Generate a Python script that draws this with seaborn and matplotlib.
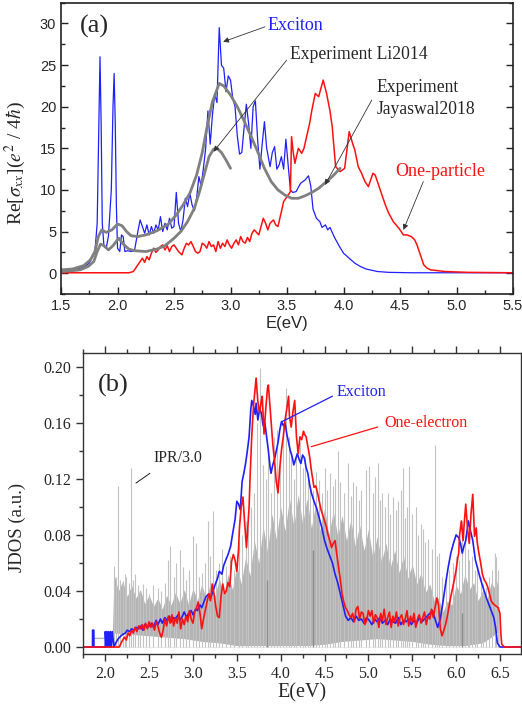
import matplotlib
matplotlib.use('Agg')
import matplotlib.pyplot as plt
import seaborn as sns
from matplotlib.ticker import MultipleLocator, FormatStrFormatter

# ---------------- panel (a): optical conductivity ----------------
exc_a_E = [1.50, 1.60, 1.70, 1.75, 1.78, 1.80, 1.82, 1.835, 1.845, 1.855, 1.865, 1.88, 1.90, 1.92, 1.945,
           1.96, 1.97, 1.98, 1.99, 2.00, 2.02, 2.035, 2.05, 2.065, 2.09, 2.12, 2.15, 2.18, 2.20, 2.22,
           2.24, 2.26, 2.28, 2.30, 2.32, 2.34, 2.36, 2.38, 2.40, 2.42, 2.44, 2.46, 2.48, 2.50, 2.52,
           2.54, 2.56, 2.58, 2.60, 2.62, 2.64, 2.66, 2.68, 2.70, 2.72, 2.74, 2.76, 2.78, 2.80, 2.82,
           2.84, 2.86, 2.88, 2.90, 2.92, 2.94, 2.96, 2.98, 3.00, 3.02, 3.04, 3.06, 3.08, 3.10, 3.12,
           3.14, 3.16, 3.18, 3.20, 3.22, 3.24, 3.26, 3.28, 3.30, 3.32, 3.35, 3.37, 3.39, 3.41, 3.43,
           3.45, 3.47, 3.49, 3.51, 3.53, 3.55, 3.58, 3.62, 3.66, 3.69, 3.71, 3.73, 3.76, 3.79, 3.81,
           3.84, 3.86, 3.88, 3.92, 3.96, 4.00, 4.05, 4.10, 4.15, 4.20, 4.30, 4.40, 4.60, 5.50]
exc_a = [0.3, 0.4, 0.7, 1.2, 2.0, 2.6, 6.0, 18, 26.0, 18, 6, 3.2, 3.0, 4.5, 10,
         20, 24.0, 18, 8, 3.0, 2.6, 4.6, 4.4, 2.6, 2.7, 2.6, 2.7, 5.0, 6.4, 5.6,
         4.8, 5.8, 4.6, 5.6, 4.8, 5.8, 5.2, 6.8, 5.0, 6.0, 5.2, 6.6, 5.4, 5.6, 9.7,
         6.0, 5.0, 6.4, 9.0, 8.0, 9.6, 8.2, 7.5, 9.0, 11.6, 10.5, 12.6, 15.0, 19.5, 15.5,
         19.0, 21.5, 20.5, 29.5, 25.0, 24.6, 21.8, 23.7, 23.2, 21.0, 20.0, 16.5, 14.3, 14.5, 17.5,
         20.3, 18.0, 15.0, 20.0, 20.7, 16.0, 12.5, 15.5, 18.2, 15.0, 12.8, 14.5, 15.2, 12.5, 13.0,
         14.0, 12.5, 16.1, 13.0, 10.0, 9.7, 9.8, 10.8, 11.2, 11.7, 10.5, 7.7, 6.6, 6.2, 5.5,
         5.8, 5.2, 5.5, 4.3, 3.3, 2.4, 1.8, 1.2, 0.8, 0.5, 0.2, 0.1, 0.05, 0.05]

one_a_E = [1.50, 2.10, 2.14, 2.17, 2.20, 2.22, 2.24, 2.26, 2.28, 2.30, 2.32, 2.34, 2.36, 2.38, 2.40,
           2.42, 2.44, 2.46, 2.48, 2.50, 2.52, 2.54, 2.57, 2.59, 2.61, 2.63, 2.65, 2.67, 2.69, 2.71,
           2.73, 2.75, 2.77, 2.79, 2.81, 2.83, 2.85, 2.87, 2.89, 2.91, 2.93, 2.95, 2.97, 2.99, 3.01,
           3.03, 3.05, 3.07, 3.09, 3.11, 3.13, 3.15, 3.17, 3.19, 3.21, 3.23, 3.25, 3.27, 3.29, 3.31,
           3.33, 3.35, 3.38, 3.40, 3.42, 3.45, 3.47, 3.50, 3.53, 3.54, 3.555, 3.57, 3.60, 3.63, 3.65,
           3.67, 3.70, 3.72, 3.75, 3.78, 3.82, 3.85, 3.88, 3.90, 3.93, 3.97, 4.01, 4.03, 4.05, 4.08,
           4.10, 4.13, 4.16, 4.19, 4.22, 4.24, 4.26, 4.28, 4.31, 4.34, 4.37, 4.40, 4.44, 4.49, 4.53,
           4.56, 4.60, 4.63, 4.65, 4.68, 4.71, 4.74, 4.77, 4.90, 5.10, 5.50]
one_a = [0.05, 0.05, 0.2, 0.8, 1.4, 1.8, 1.3, 2.0, 1.6, 2.4, 3.0, 2.5, 2.8, 3.2, 3.4,
         2.8, 3.3, 2.6, 3.2, 3.4, 3.0, 2.6, 2.2, 3.0, 3.6, 3.4, 3.8, 3.2, 2.6, 2.4,
         2.6, 3.6, 3.4, 3.0, 3.8, 3.2, 3.4, 2.6, 3.8, 3.0, 3.6, 3.2, 4.0, 3.4, 3.0,
         3.6, 4.0, 3.4, 4.4, 3.8, 3.6, 4.3, 3.8, 4.8, 5.2, 4.9, 4.6, 5.6, 6.6, 6.0,
         5.2, 6.0, 6.4, 5.8, 5.6, 7.4, 8.6, 9.2, 9.8, 16.4, 14.5, 13.2, 15.0, 14.4, 15.0,
         16.2, 18.0, 19.6, 21.6, 21.2, 23.2, 21.6, 19.5, 17.6, 12.8, 12.2, 12.6, 14.8, 17.0, 15.6,
         14.8, 12.8, 12.0, 11.0, 10.4, 11.2, 12.0, 11.8, 10.6, 9.4, 8.2, 7.2, 6.2, 5.4, 4.6,
         4.6, 4.4, 4.0, 3.4, 2.2, 1.0, 0.6, 0.4, 0.2, 0.1, 0.05]

jaya_E = [1.50, 1.60, 1.70, 1.76, 1.80, 1.83, 1.86, 1.90, 1.95, 2.00, 2.04, 2.08, 2.12, 2.18, 2.25,
          2.35, 2.45, 2.52, 2.58, 2.64, 2.70, 2.75, 2.79, 2.84, 2.90, 2.94, 3.00, 3.06, 3.12, 3.18,
          3.24, 3.30, 3.36, 3.42, 3.48, 3.54, 3.60, 3.66, 3.72, 3.78, 3.84, 3.90, 3.97]
jaya = [0.4, 0.5, 0.9, 1.6, 2.6, 4.4, 5.2, 4.9, 5.2, 5.9, 5.7, 5.0, 4.5, 4.4, 4.6,
        5.1, 5.9, 7.0, 8.2, 9.6, 11.8, 14.5, 17.4, 20.6, 22.8, 22.5, 21.4, 20.0, 18.3, 16.5,
        14.6, 12.6, 11.0, 10.0, 9.4, 9.0, 9.0, 9.3, 9.7, 10.2, 10.9, 11.6, 12.6]

li_E = [1.50, 1.60, 1.67, 1.74, 1.79, 1.82, 1.85, 1.88, 1.92, 1.96, 2.01, 2.05, 2.10, 2.15, 2.25,
        2.35, 2.42, 2.50, 2.56, 2.62, 2.68, 2.73, 2.77, 2.81, 2.85, 2.88, 2.92, 2.96, 3.00]
li = [0.2, 0.3, 0.4, 0.8, 1.4, 2.6, 3.5, 3.3, 2.8, 3.3, 4.2, 3.5, 2.9, 2.7, 2.6,
      2.9, 3.3, 4.2, 5.0, 6.2, 7.8, 10.0, 12.0, 14.0, 14.9, 15.0, 14.5, 13.6, 12.6]

# ---------------- panel (b): JDOS ----------------
exc_b_E = [1.75, 1.855, 1.856, 1.87, 1.871, 2.00, 2.001, 2.01, 2.02, 2.03, 2.04, 2.05, 2.06, 2.07, 2.08,
           2.10, 2.12, 2.15, 2.18, 2.20, 2.23, 2.25, 2.28, 2.30, 2.33, 2.35, 2.38, 2.40, 2.43, 2.45,
           2.48, 2.50, 2.53, 2.55, 2.58, 2.60, 2.63, 2.65, 2.68, 2.70, 2.73, 2.75, 2.78, 2.80, 2.83,
           2.85, 2.88, 2.90, 2.93, 2.95, 2.98, 3.00, 3.03, 3.05, 3.08, 3.10, 3.13, 3.15, 3.18, 3.20,
           3.23, 3.25, 3.28, 3.30, 3.33, 3.35, 3.38, 3.40, 3.43, 3.45, 3.48, 3.50, 3.52, 3.54, 3.56,
           3.58, 3.60, 3.62, 3.64, 3.66, 3.67, 3.69, 3.71, 3.72, 3.74, 3.76, 3.78, 3.80, 3.82, 3.84,
           3.86, 3.88, 3.89, 3.91, 3.93, 3.95, 3.97, 3.99, 4.01, 4.03, 4.05, 4.07, 4.09, 4.11, 4.13,
           4.15, 4.17, 4.19, 4.21, 4.23, 4.25, 4.27, 4.29, 4.31, 4.33, 4.35, 4.38, 4.41, 4.44, 4.47,
           4.50, 4.53, 4.56, 4.59, 4.62, 4.65, 4.68, 4.71, 4.74, 4.77, 4.80, 4.83, 4.86, 4.89, 4.92,
           4.95, 4.98, 5.01, 5.04, 5.07, 5.10, 5.13, 5.16, 5.19, 5.22, 5.25, 5.28, 5.31, 5.34, 5.37,
           5.40, 5.43, 5.46, 5.49, 5.52, 5.55, 5.58, 5.61, 5.64, 5.67, 5.70, 5.73, 5.76, 5.79, 5.82,
           5.85, 5.88, 5.91, 5.94, 5.97, 6.00, 6.03, 6.05, 6.07, 6.09, 6.11, 6.13, 6.14, 6.16, 6.19,
           6.22, 6.25, 6.28, 6.31, 6.34, 6.37, 6.40, 6.43, 6.45, 6.47, 6.50, 6.74]
exc_b = [0, 0, 0.012, 0.012, 0, 0, 0.011, 0.0, 0.011, 0.0, 0.011, 0.0, 0.011, 0.0, 0.011,
         0.0, 0.003, 0.006, 0.008, 0.009, 0.010, 0.012, 0.011, 0.013, 0.012, 0.014, 0.013, 0.015, 0.012, 0.016,
         0.014, 0.015, 0.017, 0.014, 0.019, 0.016, 0.020, 0.017, 0.021, 0.019, 0.022, 0.018, 0.021, 0.020, 0.023,
         0.019, 0.022, 0.025, 0.021, 0.024, 0.026, 0.023, 0.027, 0.026, 0.030, 0.028, 0.033, 0.036, 0.038, 0.035,
         0.040, 0.044, 0.049, 0.054, 0.052, 0.058, 0.063, 0.066, 0.072, 0.080, 0.091, 0.104, 0.102, 0.098, 0.118,
         0.124, 0.131, 0.140, 0.150, 0.170, 0.176, 0.172, 0.166, 0.174, 0.162, 0.170, 0.167, 0.158, 0.160, 0.150,
         0.140, 0.128, 0.124, 0.130, 0.134, 0.140, 0.146, 0.155, 0.161, 0.158, 0.160, 0.152, 0.146, 0.140, 0.136,
         0.130, 0.134, 0.138, 0.134, 0.131, 0.137, 0.135, 0.128, 0.124, 0.116, 0.110, 0.104, 0.099, 0.092, 0.085,
         0.076, 0.070, 0.065, 0.060, 0.052, 0.046, 0.038, 0.030, 0.022, 0.019, 0.021, 0.018, 0.022, 0.019, 0.020,
         0.017, 0.021, 0.019, 0.016, 0.020, 0.018, 0.021, 0.017, 0.019, 0.016, 0.020, 0.018, 0.017, 0.021, 0.016,
         0.019, 0.018, 0.020, 0.016, 0.019, 0.017, 0.021, 0.018, 0.020, 0.022, 0.024, 0.026, 0.020, 0.014, 0.020,
         0.032, 0.045, 0.057, 0.067, 0.074, 0.080, 0.078, 0.074, 0.067, 0.072, 0.076, 0.085, 0.090, 0.084, 0.076,
         0.062, 0.055, 0.048, 0.042, 0.036, 0.031, 0.026, 0.021, 0.014, 0.003, 0.0, 0.0]

one_b_E = [1.75, 2.16, 2.19, 2.22, 2.24, 2.26, 2.28, 2.30, 2.32, 2.34, 2.36, 2.38, 2.40, 2.42, 2.44,
           2.46, 2.48, 2.50, 2.52, 2.54, 2.56, 2.58, 2.60, 2.62, 2.64, 2.66, 2.68, 2.70, 2.72, 2.74,
           2.76, 2.78, 2.80, 2.82, 2.84, 2.86, 2.88, 2.90, 2.92, 2.94, 2.96, 2.98, 3.00, 3.02, 3.04,
           3.06, 3.08, 3.10, 3.12, 3.14, 3.16, 3.18, 3.20, 3.22, 3.24, 3.26, 3.28, 3.30, 3.32, 3.34,
           3.36, 3.38, 3.40, 3.42, 3.44, 3.46, 3.48, 3.50, 3.52, 3.53, 3.55, 3.57, 3.59, 3.61, 3.62,
           3.64, 3.65, 3.67, 3.69, 3.71, 3.72, 3.74, 3.76, 3.78, 3.79, 3.81, 3.83, 3.85, 3.86, 3.88,
           3.89, 3.91, 3.93, 3.95, 3.97, 3.99, 4.01, 4.03, 4.05, 4.07, 4.09, 4.10, 4.12, 4.14, 4.16,
           4.18, 4.20, 4.22, 4.24, 4.26, 4.27, 4.29, 4.31, 4.33, 4.35, 4.37, 4.38, 4.40, 4.42, 4.44,
           4.46, 4.48, 4.50, 4.52, 4.54, 4.56, 4.58, 4.60, 4.62, 4.64, 4.66, 4.68, 4.70, 4.72, 4.74,
           4.76, 4.78, 4.80, 4.82, 4.84, 4.86, 4.88, 4.90, 4.92, 4.94, 4.96, 4.98, 5.00, 5.02, 5.04,
           5.06, 5.08, 5.10, 5.12, 5.14, 5.16, 5.18, 5.20, 5.22, 5.24, 5.26, 5.28, 5.30, 5.32, 5.34,
           5.36, 5.38, 5.40, 5.42, 5.44, 5.46, 5.48, 5.50, 5.52, 5.54, 5.56, 5.58, 5.60, 5.62, 5.64,
           5.66, 5.68, 5.70, 5.72, 5.74, 5.76, 5.78, 5.80, 5.82, 5.84, 5.86, 5.88, 5.90, 5.92, 5.94,
           5.96, 5.98, 6.00, 6.02, 6.03, 6.04, 6.06, 6.08, 6.09, 6.11, 6.13, 6.15, 6.17, 6.19, 6.21,
           6.23, 6.24, 6.26, 6.28, 6.30, 6.32, 6.34, 6.36, 6.38, 6.40, 6.42, 6.44, 6.46, 6.48, 6.50,
           6.51, 6.52, 6.55, 6.74]
one_b = [0, 0, 0.004, 0.007, 0.005, 0.010, 0.008, 0.012, 0.010, 0.014, 0.011, 0.015, 0.013, 0.016, 0.012,
         0.017, 0.013, 0.018, 0.014, 0.017, 0.012, 0.018, 0.015, 0.010, 0.007, 0.012, 0.020, 0.015, 0.022, 0.017,
         0.023, 0.015, 0.021, 0.017, 0.025, 0.013, 0.020, 0.016, 0.022, 0.018, 0.026, 0.020, 0.017, 0.025, 0.028,
         0.032, 0.024, 0.013, 0.020, 0.026, 0.032, 0.038, 0.033, 0.045, 0.038, 0.029, 0.022, 0.021, 0.036, 0.045,
         0.038, 0.040, 0.046, 0.043, 0.061, 0.066, 0.062, 0.054, 0.070, 0.085, 0.100, 0.107, 0.088, 0.071, 0.080,
         0.100, 0.119, 0.150, 0.172, 0.185, 0.192, 0.175, 0.167, 0.176, 0.179, 0.152, 0.170, 0.185, 0.187, 0.170,
         0.162, 0.145, 0.133, 0.118, 0.110, 0.128, 0.141, 0.150, 0.162, 0.170, 0.179, 0.165, 0.157, 0.168, 0.176,
         0.150, 0.138, 0.150, 0.148, 0.154, 0.152, 0.150, 0.143, 0.136, 0.126, 0.118, 0.114, 0.115, 0.110, 0.104,
         0.098, 0.094, 0.090, 0.086, 0.080, 0.076, 0.071, 0.074, 0.076, 0.066, 0.057, 0.048, 0.038, 0.032, 0.028,
         0.026, 0.023, 0.021, 0.024, 0.018, 0.027, 0.029, 0.020, 0.025, 0.024, 0.016, 0.019, 0.026, 0.022, 0.026,
         0.017, 0.023, 0.021, 0.014, 0.024, 0.019, 0.027, 0.016, 0.021, 0.025, 0.014, 0.022, 0.018, 0.025, 0.015,
         0.021, 0.023, 0.016, 0.020, 0.026, 0.015, 0.022, 0.018, 0.024, 0.014, 0.020, 0.023, 0.017, 0.021, 0.025,
         0.016, 0.022, 0.020, 0.027, 0.021, 0.028, 0.035, 0.030, 0.013, 0.008, 0.012, 0.016, 0.022, 0.029, 0.036,
         0.042, 0.048, 0.055, 0.064, 0.067, 0.080, 0.090, 0.076, 0.086, 0.102, 0.085, 0.074, 0.095, 0.109, 0.079,
         0.085, 0.075, 0.067, 0.060, 0.052, 0.048, 0.046, 0.043, 0.038, 0.033, 0.031, 0.030, 0.029, 0.028, 0.024,
         0.010, 0.002, 0.0, 0.0]

# IPR/3.0: dense band top edge, white gap under it, and the taller single spikes
ipr_E = [1.86, 2.08, 2.10, 2.15, 2.20, 2.25, 2.30, 2.35, 2.40, 2.45, 2.50, 2.55, 2.60, 2.65, 2.70,
         2.75, 2.80, 2.85, 2.90, 2.95, 3.00, 3.05, 3.10, 3.15, 3.20, 3.25, 3.30, 3.35, 3.40, 3.45,
         3.50, 3.55, 3.60, 3.65, 3.70, 3.75, 3.80, 3.85, 3.90, 3.95, 4.00, 4.05, 4.10, 4.15, 4.20,
         4.25, 4.30, 4.35, 4.40, 4.45, 4.50, 4.55, 4.60, 4.65, 4.70, 4.75, 4.80, 4.85, 4.90, 4.95,
         5.00, 5.05, 5.10, 5.15, 5.20, 5.25, 5.30, 5.35, 5.40, 5.45, 5.50, 5.55, 5.60, 5.65, 5.70,
         5.75, 5.80, 5.85, 5.90, 5.95, 6.00, 6.05, 6.10, 6.15, 6.20, 6.25, 6.30, 6.35, 6.40, 6.45,
         6.48, 6.49]
ipr_high = [0.007, 0.007, 0.052, 0.040, 0.047, 0.036, 0.044, 0.035, 0.041, 0.031, 0.037, 0.029, 0.035, 0.027, 0.037,
            0.030, 0.039, 0.031, 0.041, 0.030, 0.042, 0.033, 0.045, 0.034, 0.046, 0.036, 0.049, 0.037, 0.052, 0.041,
            0.058, 0.045, 0.064, 0.051, 0.076, 0.060, 0.086, 0.068, 0.095, 0.077, 0.100, 0.083, 0.106, 0.086, 0.109,
            0.088, 0.106, 0.085, 0.103, 0.083, 0.099, 0.080, 0.097, 0.079, 0.094, 0.076, 0.091, 0.072, 0.087, 0.069,
            0.084, 0.064, 0.079, 0.061, 0.074, 0.057, 0.069, 0.053, 0.065, 0.049, 0.059, 0.045, 0.053, 0.039, 0.045,
            0.033, 0.035, 0.025, 0.033, 0.030, 0.044, 0.038, 0.052, 0.041, 0.046, 0.033, 0.040, 0.033, 0.046, 0.041,
            0.050, 0.007]
gap_E = [1.86, 2.08, 2.10, 2.3, 2.5, 2.7, 2.9, 3.1, 3.3, 3.5, 3.7, 3.9, 4.1, 4.3, 4.5, 4.7, 4.9,
         5.1, 5.3, 5.5, 5.7, 5.9, 6.1, 6.3, 6.4, 6.48, 6.49]
gap_h = [0.006, 0.006, 0.010, 0.009, 0.008, 0.007, 0.006, 0.004, 0.003, 0.001, 0.001, 0.001, 0.001,
         0.001, 0.002, 0.004, 0.005, 0.006, 0.005, 0.004, 0.002, 0.001, 0.001, 0.003, 0.007, 0.011, 0.0]
spike_E = [2.10, 2.12, 2.148, 2.17, 2.20, 2.22, 2.24, 2.27, 2.299, 2.32, 2.34, 2.37, 2.40, 2.43, 2.46,
           2.50, 2.55, 2.60, 2.64, 2.68, 2.716, 2.742, 2.78, 2.81, 2.85, 2.886, 2.92, 2.96, 3.00, 3.04,
           3.07, 3.10, 3.14, 3.17, 3.20, 3.227, 3.26, 3.30, 3.33, 3.38, 3.42, 3.47, 3.52, 3.56, 3.60,
           3.63, 3.66, 3.70, 3.73, 3.77, 3.80, 3.83, 3.86, 3.89, 3.92, 3.96, 3.99, 4.03, 4.065, 4.09,
           4.12, 4.15, 4.18, 4.216, 4.25, 4.28, 4.31, 4.34, 4.37, 4.40, 4.44, 4.47, 4.50, 4.53, 4.557,
           4.60, 4.62, 4.65, 4.68, 4.72, 4.765, 4.80, 4.83, 4.86, 4.89, 4.92, 4.97, 5.01, 5.05, 5.07,
           5.106, 5.13, 5.16, 5.19, 5.22, 5.25, 5.28, 5.31, 5.34, 5.37, 5.39, 5.42, 5.44, 5.466, 5.50,
           5.54, 5.57, 5.60, 5.62, 5.65, 5.68, 5.72, 5.757, 5.78, 5.80, 5.84, 5.88, 5.92, 5.96, 6.00,
           6.03, 6.07, 6.10, 6.13, 6.15, 6.18, 6.21, 6.24, 6.28, 6.31, 6.34, 6.38, 6.41, 6.44, 6.46, 6.48]
spike_h = [0.058, 0.050, 0.115, 0.048, 0.047, 0.052, 0.050, 0.046, 0.128, 0.048, 0.052, 0.044, 0.040, 0.045, 0.042,
           0.038, 0.044, 0.042, 0.040, 0.046, 0.062, 0.072, 0.050, 0.060, 0.069, 0.057, 0.048, 0.055, 0.079, 0.074,
           0.050, 0.053, 0.060, 0.090, 0.065, 0.097, 0.055, 0.060, 0.070, 0.058, 0.065, 0.055, 0.075, 0.080, 0.090,
           0.085, 0.100, 0.110, 0.160, 0.199, 0.130, 0.120, 0.140, 0.110, 0.150, 0.155, 0.130, 0.160, 0.185, 0.150,
           0.140, 0.120, 0.135, 0.146, 0.128, 0.135, 0.120, 0.115, 0.112, 0.125, 0.119, 0.110, 0.128, 0.112, 0.124,
           0.115, 0.120, 0.140, 0.118, 0.110, 0.131, 0.108, 0.118, 0.115, 0.105, 0.112, 0.126, 0.129, 0.110, 0.121,
           0.131, 0.105, 0.110, 0.100, 0.110, 0.095, 0.107, 0.098, 0.104, 0.112, 0.128, 0.092, 0.100, 0.129, 0.095,
           0.100, 0.080, 0.088, 0.084, 0.075, 0.077, 0.070, 0.144, 0.065, 0.067, 0.050, 0.048, 0.055, 0.060, 0.065,
           0.062, 0.090, 0.080, 0.070, 0.062, 0.065, 0.055, 0.058, 0.050, 0.045, 0.043, 0.050, 0.055, 0.067, 0.064, 0.055]
dark_E = [3.845, 4.37, 6.07]
dark_h = [0.048, 0.069, 0.024]

sns.set_theme(style='ticks')
plt.rcParams['font.family'] = ['Liberation Serif', 'DejaVu Serif']
plt.rcParams['mathtext.fontset'] = 'stix'

BLUE = '#1f1fff'
RED = '#ff1010'
SANS = ['Liberation Sans', 'DejaVu Sans']
fig = plt.figure(figsize=(5.22, 7.04), dpi=100)

# ---- (a) ----
ax = fig.add_axes([0.1169, 0.5824, 0.8659, 0.4138])
sns.lineplot(x=exc_a_E, y=exc_a, ax=ax, color=BLUE, lw=0.9, sort=False, estimator=None)
sns.lineplot(x=one_a_E, y=one_a, ax=ax, color=RED, lw=1.1, sort=False, estimator=None)
sns.lineplot(x=jaya_E, y=jaya, ax=ax, color='#808080', lw=2.0, sort=False, estimator=None)
sns.lineplot(x=li_E, y=li, ax=ax, color='#808080', lw=2.0, sort=False, estimator=None)
ax.set_xlim(1.5, 5.5)
ax.set_ylim(-2.5, 32.5)
ax.xaxis.set_major_locator(MultipleLocator(0.5))
ax.xaxis.set_minor_locator(MultipleLocator(0.25))
ax.yaxis.set_major_locator(MultipleLocator(5))
ax.yaxis.set_minor_locator(MultipleLocator(2.5))
ax.tick_params(which='both', direction='in', right=True, top=False, width=1.0, color='#222222')
ax.tick_params(which='major', length=5, labelsize=10.5)
ax.tick_params(which='minor', length=3)
for lab in ax.get_xticklabels() + ax.get_yticklabels():
    lab.set_family(SANS)
for s in ax.spines.values():
    s.set_linewidth(1.2)
    s.set_color('#222222')
ax.set_xlabel('E(eV)', fontsize=12, family=SANS, labelpad=2)
ax.set_ylabel(r'Re[$\sigma_{xx}$]($e^2$ / 4$\hbar$)', fontsize=14)
ax.yaxis.set_label_coords(-0.072, 0.45)
ax.text(1.665, 29.6, '(a)', fontsize=19, va='center', ha='left')

arw = dict(arrowstyle='-|>', color='#333333', lw=0.6, mutation_scale=8, shrinkA=0, shrinkB=0)
ax.annotate('', xy=(2.935, 27.8), xytext=(3.305, 29.6), arrowprops=arw)
ax.text(3.325, 29.8, 'Exciton', color=BLUE, fontsize=13, va='center', ha='left')
ax.annotate('', xy=(2.85, 14.6), xytext=(3.497, 25.6), arrowprops=arw)
ax.text(3.527, 26.3, 'Experiment Li2014', fontsize=12.7, va='center', ha='left')
ax.annotate('', xy=(3.836, 10.6), xytext=(4.25, 20.8), arrowprops=arw)
ax.text(4.294, 22.3, 'Experiment', fontsize=12.7, va='center', ha='left')
ax.text(4.294, 19.7, 'Jayaswal2018', fontsize=12.7, va='center', ha='left')
ax.annotate('', xy=(4.53, 5.2), xytext=(4.706, 11.0), arrowprops=arw)
ax.text(4.456, 12.2, 'One-particle', color=RED, fontsize=13, va='center', ha='left')

# ---- (b) ----
bx = fig.add_axes([0.1596, 0.0710, 0.8385, 0.4271])
bx.vlines(spike_E, 0, spike_h, color='#c2c2c2', lw=0.8)
bx.fill_between(ipr_E, 0, ipr_high, color='#b4b4b4', lw=0)
bx.fill_between(gap_E, 0, gap_h, color='white', lw=0)
bx.vlines(dark_E, 0, dark_h, color='#8c8c8c', lw=0.9)
sns.lineplot(x=exc_b_E, y=exc_b, ax=bx, color=BLUE, lw=1.2, sort=False, estimator=None)
sns.lineplot(x=one_b_E, y=one_b, ax=bx, color=RED, lw=1.2, sort=False, estimator=None)
bx.set_xlim(1.75, 6.74)
bx.set_ylim(-0.005, 0.2096)
bx.xaxis.set_major_locator(MultipleLocator(0.5))
bx.xaxis.set_minor_locator(MultipleLocator(0.25))
bx.yaxis.set_major_locator(MultipleLocator(0.04))
bx.yaxis.set_minor_locator(MultipleLocator(0.02))
bx.yaxis.set_major_formatter(FormatStrFormatter('%.2f'))
bx.tick_params(which='both', direction='out', width=1.0, color='#333333')
bx.tick_params(which='major', length=5, labelsize=11.5)
bx.tick_params(which='minor', length=3)
bx.tick_params(axis='x', which='both', top=True)
bx.tick_params(axis='y', which='both', right=True)
for s in bx.spines.values():
    s.set_linewidth(1.0)
    s.set_color('#333333')
bx.set_xlabel('E(eV)', fontsize=14.5, labelpad=1)
bx.set_ylabel('JDOS (a.u.)', fontsize=13.5)
bx.yaxis.set_label_coords(-0.13, 0.42)
bx.text(1.92, 0.187, '(b)', fontsize=19, va='center', ha='left')

bx.annotate('', xy=(2.35, 0.117), xytext=(2.51, 0.124),
            arrowprops=dict(arrowstyle='-', color='k', lw=0.7, shrinkA=0, shrinkB=0))
bx.text(2.55, 0.135, 'IPR/3.0', fontsize=11.5, va='center', ha='left')
bx.annotate('', xy=(4.02, 0.161), xytext=(4.59, 0.179),
            arrowprops=dict(arrowstyle='-', color=BLUE, lw=0.9, shrinkA=0, shrinkB=0))
bx.text(4.64, 0.182, 'Exciton', color=BLUE, fontsize=11.5, va='center', ha='left')
bx.annotate('', xy=(4.35, 0.143), xytext=(5.105, 0.157),
            arrowprops=dict(arrowstyle='-', color=RED, lw=0.9, shrinkA=0, shrinkB=0))
bx.text(5.18, 0.1596, 'One-electron', color=RED, fontsize=11.5, va='center', ha='left')

fig.savefig('out.png', dpi=100)
